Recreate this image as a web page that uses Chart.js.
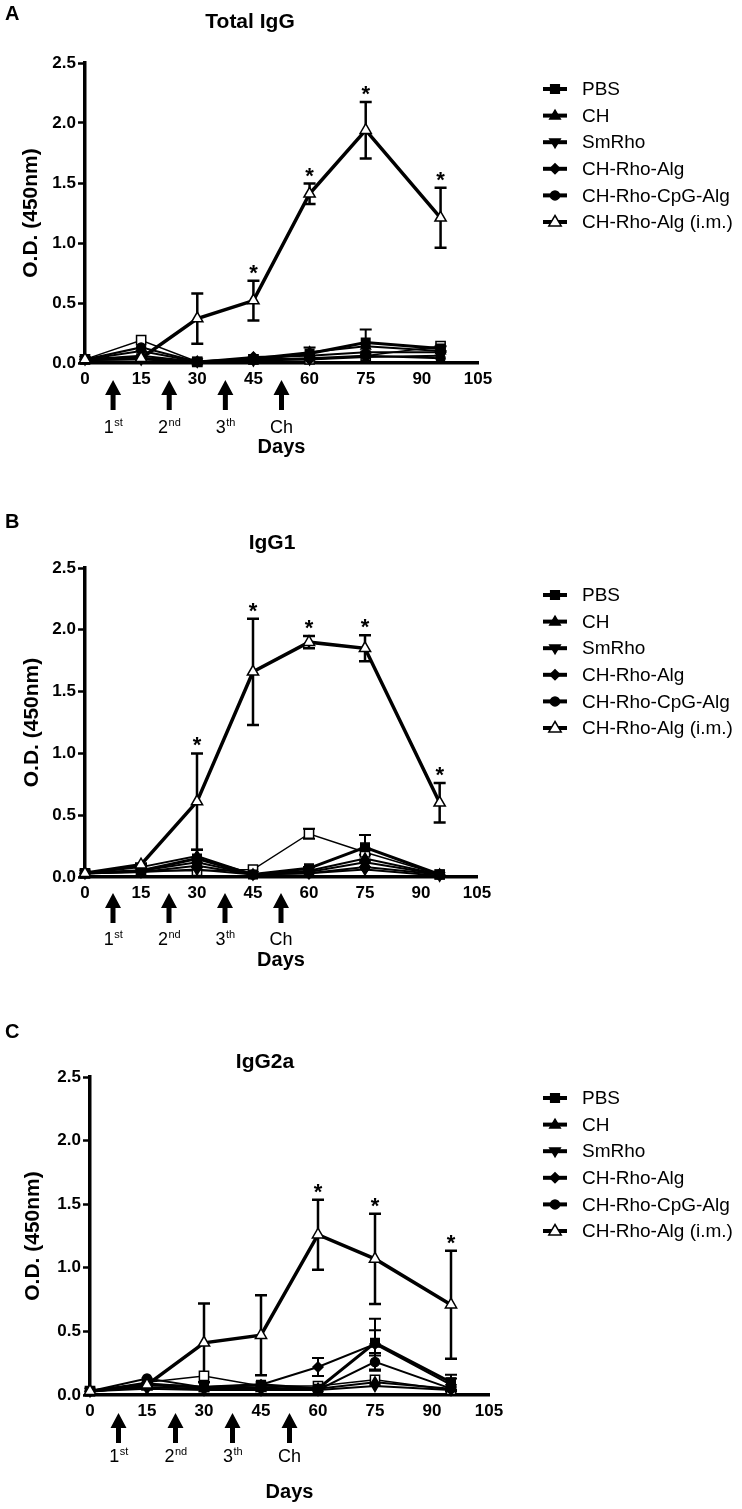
<!DOCTYPE html>
<html>
<head>
<meta charset="utf-8">
<script src="https://cdn.jsdelivr.net/npm/chart.js@4.4.0/dist/chart.umd.min.js"></script>
<style>
  body { margin: 0; background: #fff; width: 742px; height: 1509px; position: relative; overflow: hidden; }
  canvas { position: absolute; left: 0; }
</style>
</head>
<body>
<canvas id="chart-a" width="742" height="500" style="top:0px"></canvas>
<canvas id="chart-b" width="742" height="500" style="top:500px"></canvas>
<canvas id="chart-c" width="742" height="509" style="top:1000px"></canvas>
<script>
const days = [0, 15, 30, 45, 60, 75, 95];
const dayTicks = [0, 15, 30, 45, 60, 75, 90, 105];
const odTicks = [0, 0.5, 1.0, 1.5, 2.0, 2.5];
const groups = ['PBS', 'CH', 'SmRho', 'CH-Rho-Alg', 'CH-Rho-CpG-Alg', 'CH-Rho-Alg (i.m.)'];
const boostDays = [7.5, 22.5, 37.5, 52.5];
const boostLabels = ['1', '2', '3', 'Ch'];
const boostSups = ['st', 'nd', 'th', ''];

// A - Total IgG
const totalPBS = [0.03, 0.04, 0.01, 0.03, 0.08, 0.17, 0.12];
const totalPBSErr = [0, 0, 0, 0, 0.05, 0.11, 0.02];
const totalCH = [0.03, 0.06, 0.01, 0.04, 0.09, 0.14, 0.10];
const totalSmRho = [0.03, 0.03, 0.01, 0.02, 0.03, 0.05, 0.06];
const totalRhoAlg = [0.03, 0.10, 0.01, 0.05, 0.06, 0.09, 0.09];
const totalCpG = [0.03, 0.13, 0.01, 0.03, 0.04, 0.06, 0.04];
const totalIM = [0.03, 0.04, 0.37, 0.52, 1.41, 1.94, 1.21];
const totalIMErr = [0, 0.01, 0.21, 0.165, 0.085, 0.235, 0.25];
const totalOpen = [0.03, 0.19, 0.01, 0.03, 0.03, 0.06, 0.14];
const totalStars = [45, 60, 75, 95];

// B - IgG1
const g1PBS = [0.03, 0.05, 0.15, 0.02, 0.07, 0.24, 0.02];
const g1PBSErr = [0, 0, 0.07, 0, 0.01, 0.10, 0];
const g1CH = [0.03, 0.08, 0.17, 0.02, 0.05, 0.15, 0.02];
const g1SmRho = [0.03, 0.04, 0.06, 0.02, 0.03, 0.06, 0.01];
const g1RhoAlg = [0.03, 0.05, 0.12, 0.02, 0.04, 0.12, 0.02];
const g1CpG = [0.03, 0.04, 0.09, 0.02, 0.03, 0.08, 0.02];
const g1IM = [0.03, 0.10, 0.61, 1.66, 1.90, 1.85, 0.60];
const g1IMErr = [0, 0.01, 0.39, 0.43, 0.05, 0.105, 0.16];
const g1Open = [0.03, 0.05, 0.05, 0.06, 0.35, 0.20, 0.02];
const g1OpenErr = [0, 0, 0, 0, 0.04, 0.02, 0];
const g1Stars = [30, 45, 60, 75, 95];

// C - IgG2a
const g2aPBS = [0.03, 0.08, 0.06, 0.08, 0.05, 0.41, 0.10];
const g2aPBSErr = [0, 0, 0, 0, 0, 0.10, 0.06];
const g2aCH = [0.03, 0.06, 0.05, 0.05, 0.05, 0.10, 0.05];
const g2aSmRho = [0.03, 0.05, 0.04, 0.04, 0.04, 0.07, 0.04];
const g2aRhoAlg = [0.03, 0.09, 0.06, 0.08, 0.22, 0.40, 0.08];
const g2aRhoAlgErr = [0, 0, 0, 0, 0.07, 0.20, 0.05];
const g2aCpG = [0.03, 0.13, 0.06, 0.06, 0.04, 0.26, 0.05];
const g2aCpGErr = [0, 0, 0, 0, 0, 0.07, 0];
const g2aIM = [0.03, 0.08, 0.41, 0.47, 1.26, 1.07, 0.71];
const g2aIMErr = [0, 0.01, 0.31, 0.315, 0.275, 0.355, 0.425];
const g2aOpen = [0.03, 0.10, 0.15, 0.07, 0.07, 0.12, 0.04];
const g2aStars = [60, 75, 95];

// marker / line look per series slot (last one has no legend entry)
const looks = [
  { shape: 'rect', fill: '#000', width: 3, r: 6 },
  { shape: 'triangle', fill: '#000', width: 2, r: 5.5 },
  { shape: 'triangle', rot: 180, fill: '#000', width: 2, r: 5.5 },
  { shape: 'rectRot', fill: '#000', width: 2, r: 5 },
  { shape: 'circle', fill: '#000', width: 2, r: 4.5 },
  { shape: 'triangle', fill: '#fff', width: 3.5, r: 6.5 },
  { shape: 'rect', fill: '#fff', width: 1.5, r: 6.5 },
];

const FONT = "'Liberation Sans', Arial, sans-serif";

const panels = {
  'chart-a': {
    top: 0, letter: 'A', letterY: 14, title: 'Total IgG', titleX: 250, titleY: 22,
    left: 85, right: 478, plotTop: 63, plotBottom: 363, yTitleX: 31,
    legendY: 89, arrowTop: 380, labelY: 427, daysY: 447,
    series: [totalPBS, totalCH, totalSmRho, totalRhoAlg, totalCpG, totalIM, totalOpen],
    errs: [totalPBSErr, null, null, null, null, totalIMErr, null],
    stars: totalStars,
  },
  'chart-b': {
    top: 500, letter: 'B', letterY: 522, title: 'IgG1', titleX: 272, titleY: 543,
    left: 85, right: 477, plotTop: 568, plotBottom: 877, yTitleX: 32,
    legendY: 595, arrowTop: 893, labelY: 939, daysY: 960,
    series: [g1PBS, g1CH, g1SmRho, g1RhoAlg, g1CpG, g1IM, g1Open],
    errs: [g1PBSErr, null, null, null, null, g1IMErr, g1OpenErr],
    stars: g1Stars,
  },
  'chart-c': {
    top: 1000, letter: 'C', letterY: 1032, title: 'IgG2a', titleX: 265, titleY: 1062,
    left: 90, right: 489, plotTop: 1077, plotBottom: 1395, yTitleX: 33,
    legendY: 1098, arrowTop: 1413, labelY: 1456, daysY: 1492,
    series: [g2aPBS, g2aCH, g2aSmRho, g2aRhoAlg, g2aCpG, g2aIM, g2aOpen],
    errs: [g2aPBSErr, null, null, g2aRhoAlgErr, g2aCpGErr, g2aIMErr, null],
    stars: g2aStars,
  },
};

function marker(ctx, look, x, y) {
  const r = look.r;
  ctx.save();
  ctx.translate(x, y);
  if (look.rot) ctx.rotate(look.rot * Math.PI / 180);
  ctx.beginPath();
  if (look.shape === 'rect') {
    const s = r * 0.72;
    ctx.rect(-s, -s, 2 * s, 2 * s);
  } else if (look.shape === 'triangle') {
    ctx.moveTo(0, -r);
    ctx.lineTo(r * 0.95, r * 0.6);
    ctx.lineTo(-r * 0.95, r * 0.6);
    ctx.closePath();
  } else if (look.shape === 'rectRot') {
    ctx.moveTo(0, -r); ctx.lineTo(r, 0); ctx.lineTo(0, r); ctx.lineTo(-r, 0);
    ctx.closePath();
  } else {
    ctx.arc(0, 0, r, 0, Math.PI * 2);
  }
  ctx.fillStyle = look.fill;
  ctx.fill();
  ctx.lineWidth = 1.5;
  ctx.strokeStyle = '#000';
  ctx.stroke();
  ctx.restore();
}

const decor = {
  id: 'decor',
  beforeDatasetsDraw(chart) {
    const p = panels[chart.canvas.id];
    const ctx = chart.ctx, xs = chart.scales.x, ys = chart.scales.y;
    ctx.save();
    ctx.strokeStyle = '#000';
    p.series.forEach((vals, k) => {
      const err = p.errs[k];
      if (!err) return;
      ctx.lineWidth = k === 5 ? 2.5 : 2;
      vals.forEach((v, i) => {
        if (!err[i]) return;
        const x = xs.getPixelForValue(days[i]);
        const hi = ys.getPixelForValue(v + err[i]);
        const lo = ys.getPixelForValue(Math.max(0, v - err[i]));
        ctx.beginPath();
        ctx.moveTo(x, hi); ctx.lineTo(x, lo);
        ctx.moveTo(x - 6, hi); ctx.lineTo(x + 6, hi);
        if (v - err[i] > 0.02) { ctx.moveTo(x - 6, lo); ctx.lineTo(x + 6, lo); }
        ctx.stroke();
      });
    });
    ctx.restore();
  },
  afterDraw(chart) {
    const p = panels[chart.canvas.id];
    const ctx = chart.ctx, xs = chart.scales.x, ys = chart.scales.y;
    const t = p.top;
    ctx.save();
    ctx.fillStyle = '#000';
    ctx.strokeStyle = '#000';

    // panel letter + title
    ctx.font = 'bold 20px ' + FONT;
    ctx.textBaseline = 'middle';
    ctx.textAlign = 'left';
    ctx.fillText(p.letter, 5, p.letterY - t);
    ctx.font = 'bold 21px ' + FONT;
    ctx.textAlign = 'center';
    ctx.fillText(p.title, p.titleX, p.titleY - t);

    // axis titles
    ctx.font = 'bold 20px ' + FONT;
    ctx.fillText('Days', (p.left + p.right) / 2, p.daysY - t);
    ctx.font = 'bold 21px ' + FONT;
    ctx.save();
    ctx.translate(p.yTitleX, (p.plotTop + p.plotBottom) / 2 - t);
    ctx.rotate(-Math.PI / 2);
    ctx.fillText('O.D. (450nm)', 0, 0);
    ctx.restore();

    // significance stars over the i.m. group
    ctx.font = 'bold 22px ' + FONT;
    ctx.textBaseline = 'alphabetic';
    p.stars.forEach(d => {
      const i = days.indexOf(d);
      const v = p.series[5][i] + p.errs[5][i];
      ctx.fillText('*', xs.getPixelForValue(d), ys.getPixelForValue(v) - 1);
    });

    // immunisation arrows + labels
    boostDays.forEach((d, k) => {
      const x = xs.getPixelForValue(d);
      const y0 = p.arrowTop - t;
      ctx.beginPath();
      ctx.moveTo(x, y0);
      ctx.lineTo(x + 8, y0 + 15);
      ctx.lineTo(x + 2.5, y0 + 15);
      ctx.lineTo(x + 2.5, y0 + 30);
      ctx.lineTo(x - 2.5, y0 + 30);
      ctx.lineTo(x - 2.5, y0 + 15);
      ctx.lineTo(x - 8, y0 + 15);
      ctx.closePath();
      ctx.fill();

      ctx.font = '18px ' + FONT;
      const wMain = ctx.measureText(boostLabels[k]).width;
      ctx.font = '11px ' + FONT;
      const wSup = ctx.measureText(boostSups[k]).width;
      const x0 = x - (wMain + wSup) / 2;
      ctx.textAlign = 'left';
      ctx.font = '18px ' + FONT;
      ctx.fillText(boostLabels[k], x0, p.labelY - t + 6);
      ctx.font = '11px ' + FONT;
      ctx.fillText(boostSups[k], x0 + wMain + 0.5, p.labelY - t - 1);
      ctx.textAlign = 'center';
    });

    // legend
    ctx.textAlign = 'left';
    ctx.textBaseline = 'middle';
    ctx.font = '19px ' + FONT;
    groups.forEach((name, k) => {
      const y = p.legendY + k * 26.6 - t;
      ctx.lineWidth = 4;
      ctx.beginPath();
      ctx.moveTo(543, y); ctx.lineTo(567, y);
      ctx.stroke();
      marker(ctx, looks[k], 555, y);
      ctx.fillStyle = '#000';
      ctx.fillText(name, 582, y + 1);
    });
    ctx.restore();
  },
};

function buildChart(id) {
  const p = panels[id];
  const canvas = document.getElementById(id);
  const h = canvas.height;
  const xHeight = 30;
  const datasets = p.series.map((vals, k) => {
    const look = looks[k];
    return {
      label: k < groups.length ? groups[k] : 'unlabelled',
      data: vals.map((v, i) => ({ x: days[i], y: v })),
      borderColor: '#000',
      borderWidth: look.width,
      backgroundColor: look.fill,
      pointStyle: look.shape,
      pointRotation: look.rot || 0,
      pointRadius: look.r,
      pointBackgroundColor: look.fill,
      pointBorderColor: '#000',
      pointBorderWidth: 1.5,
      tension: 0,
      clip: false,
      order: k === 5 ? 0 : k + 1,
    };
  });
  return new Chart(canvas, {
    type: 'line',
    data: { datasets },
    options: {
      responsive: false,
      animation: false,
      events: [],
      layout: {
        padding: {
          left: 0,
          top: p.plotTop - p.top,
          right: 742 - p.right,
          bottom: h - (p.plotBottom - p.top) - xHeight,
        },
      },
      plugins: { legend: { display: false }, tooltip: { enabled: false }, title: { display: false } },
      scales: {
        x: {
          type: 'linear', min: 0, max: 105,
          afterBuildTicks: s => { s.ticks = dayTicks.map(v => ({ value: v })); },
          afterFit: s => { s.height = xHeight; },
          grid: { drawOnChartArea: false, drawTicks: false },
          border: { color: '#000', width: 3.5 },
          ticks: { color: '#000', padding: 6, autoSkip: false, maxRotation: 0, font: { family: FONT, size: 17, weight: 'bold' } },
        },
        y: {
          min: 0, max: 2.5,
          afterBuildTicks: s => { s.ticks = odTicks.map(v => ({ value: v })); },
          afterFit: s => { s.width = p.left; },
          grid: { drawOnChartArea: false, drawTicks: true, tickLength: 7, tickColor: '#000', tickWidth: 2.5 },
          border: { color: '#000', width: 3.5 },
          ticks: { color: '#000', padding: 2, callback: v => v.toFixed(1), font: { family: FONT, size: 17, weight: 'bold' } },
        },
      },
    },
    plugins: [decor],
  });
}

Object.keys(panels).forEach(buildChart);
</script>
</body>
</html>
